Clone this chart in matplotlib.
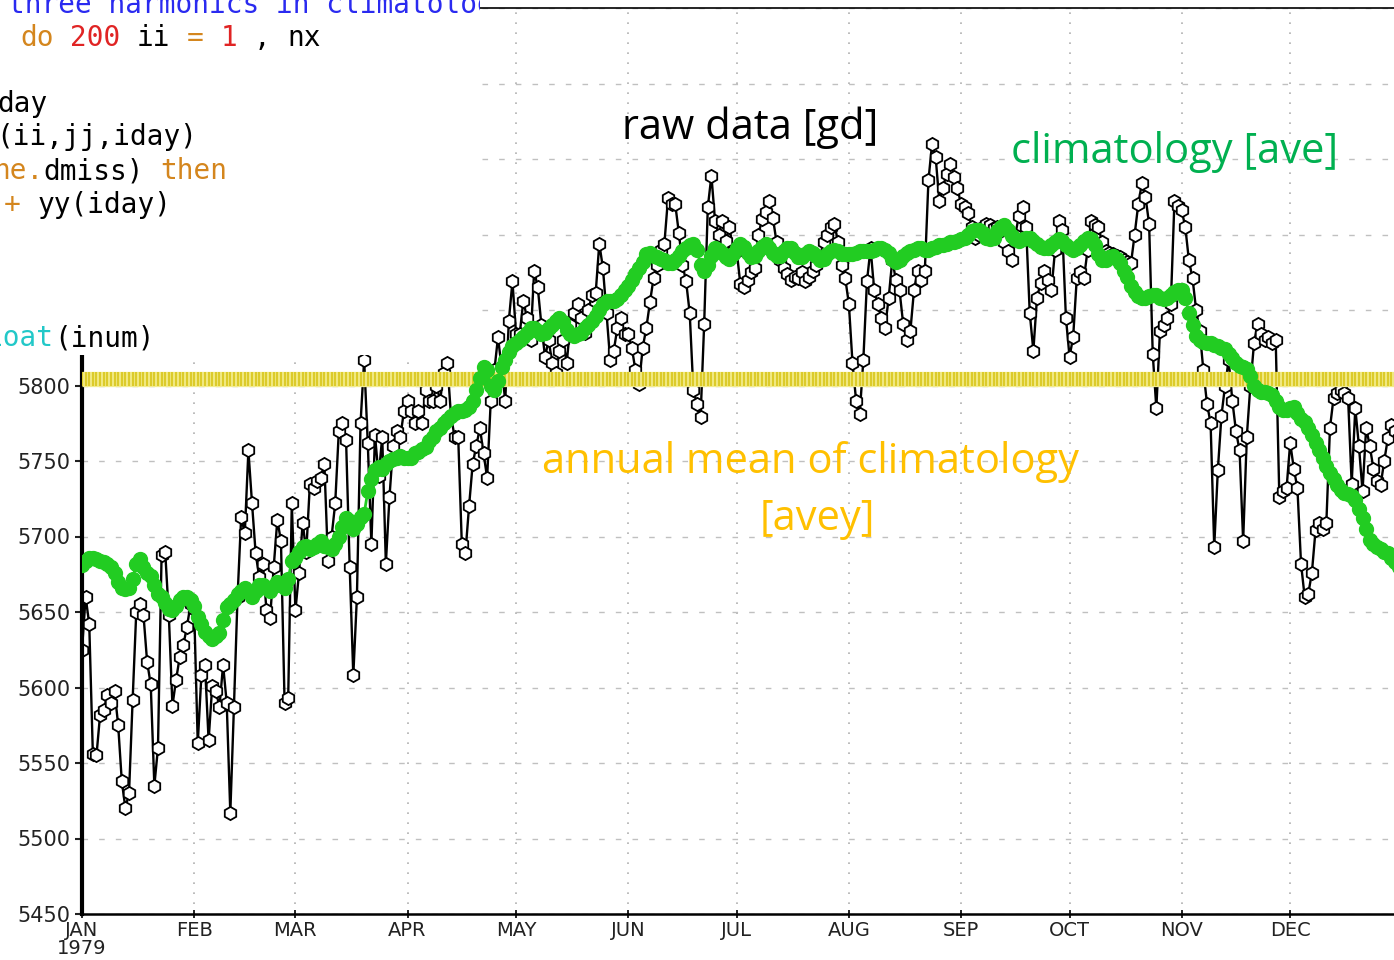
import numpy as np
import matplotlib.pyplot as plt

# daily 500 hPa height, 1979 (raw data [gd])
gd_jan = [5625, 5660, 5642, 5556, 5555, 5582, 5585, 5595, 5590, 5598, 5575, 5538, 5520, 5530, 5592, 5650,
          5655, 5648, 5617, 5602, 5535, 5560, 5688, 5690, 5648, 5588, 5605, 5620, 5628, 5640, 5655]
gd_feb = [5652, 5563, 5608, 5615, 5565, 5601, 5598, 5587, 5615, 5590, 5517, 5587, 5660, 5713, 5702, 5757,
          5722, 5689, 5673, 5682, 5651, 5646, 5680, 5711, 5697, 5590, 5593, 5722]
gd_mar = [5651, 5676, 5709, 5690, 5735, 5732, 5737, 5739, 5748, 5684, 5700, 5722, 5770, 5775, 5764, 5680,
          5608, 5660, 5775, 5817, 5762, 5695, 5767, 5740, 5766, 5682, 5726, 5760, 5770, 5766, 5783]
gd_apr = [5790, 5783, 5775, 5783, 5775, 5797, 5790, 5790, 5800, 5790, 5808, 5815, 5780, 5766, 5766, 5695,
          5689, 5720, 5748, 5760, 5772, 5755, 5739, 5790, 5810, 5832, 5812, 5790, 5843, 5869]
gd_may = [5834, 5834, 5856, 5845, 5830, 5876, 5865, 5840, 5819, 5830, 5815, 5808, 5823, 5830, 5815, 5840,
          5848, 5854, 5845, 5835, 5850, 5860, 5861, 5894, 5878, 5848, 5817, 5823, 5838, 5845, 5834]
gd_jun = [5834, 5825, 5810, 5801, 5825, 5838, 5855, 5871, 5880, 5890, 5894, 5924, 5920, 5920, 5901, 5880,
          5869, 5848, 5797, 5788, 5779, 5841, 5918, 5939, 5909, 5900, 5909, 5896, 5905, 5889]
gd_jul = [5889, 5867, 5865, 5870, 5875, 5878, 5900, 5910, 5915, 5922, 5911, 5895, 5883, 5878, 5874, 5870,
          5872, 5871, 5875, 5869, 5872, 5876, 5880, 5885, 5895, 5900, 5905, 5907, 5895, 5880, 5871]
gd_aug = [5854, 5815, 5790, 5781, 5817, 5869, 5891, 5863, 5854, 5845, 5838, 5858, 5883, 5870, 5863, 5841,
          5830, 5836, 5863, 5876, 5870, 5876, 5936, 5960, 5951, 5922, 5931, 5940, 5947, 5938, 5931]
gd_sep = [5920, 5918, 5914, 5905, 5898, 5900, 5905, 5907, 5906, 5904, 5905, 5900, 5895, 5889, 5883, 5900,
          5912, 5918, 5905, 5848, 5823, 5858, 5868, 5876, 5870, 5863, 5890, 5909, 5903, 5845]
gd_oct = [5819, 5832, 5871, 5875, 5871, 5890, 5909, 5906, 5905, 5895, 5889, 5888, 5887, 5886, 5885, 5883,
          5882, 5881, 5900, 5920, 5934, 5925, 5907, 5821, 5785, 5836, 5840, 5845, 5854, 5922, 5919]
gd_nov = [5916, 5905, 5883, 5871, 5850, 5836, 5810, 5788, 5775, 5693, 5744, 5780, 5800, 5817, 5790, 5770,
          5757, 5697, 5766, 5800, 5828, 5841, 5834, 5830, 5832, 5828, 5830, 5726, 5730, 5732]
gd_dec = [5762, 5745, 5732, 5682, 5660, 5662, 5676, 5704, 5709, 5705, 5709, 5772, 5792, 5795, 5797, 5795,
          5792, 5735, 5785, 5760, 5730, 5772, 5760, 5745, 5737, 5734, 5750, 5765, 5774, 5770, 5765]

# climatology [ave]
ave_jan = [5681, 5684, 5686, 5686, 5685, 5684, 5683, 5682, 5680, 5676, 5670, 5666, 5665, 5666, 5672, 5682,
           5685, 5680, 5676, 5674, 5668, 5662, 5660, 5656, 5652, 5651, 5654, 5658, 5660, 5660, 5658]
ave_feb = [5654, 5647, 5642, 5637, 5634, 5632, 5634, 5636, 5645, 5653, 5655, 5658, 5662, 5664, 5666, 5663,
           5660, 5664, 5668, 5668, 5666, 5664, 5667, 5670, 5668, 5666, 5672, 5684]
ave_mar = [5686, 5690, 5693, 5694, 5692, 5693, 5695, 5697, 5694, 5693, 5692, 5695, 5700, 5706, 5712, 5710,
           5705, 5708, 5713, 5715, 5730, 5738, 5744, 5746, 5745, 5748, 5750, 5751, 5752, 5753, 5752]
ave_apr = [5752, 5752, 5755, 5756, 5758, 5759, 5763, 5766, 5770, 5772, 5775, 5777, 5780, 5782, 5783, 5783,
           5784, 5786, 5790, 5797, 5805, 5812, 5810, 5800, 5797, 5803, 5812, 5817, 5822, 5826]
ave_may = [5828, 5830, 5832, 5835, 5838, 5838, 5836, 5834, 5835, 5838, 5840, 5843, 5845, 5842, 5837, 5834,
           5833, 5834, 5835, 5838, 5840, 5843, 5846, 5850, 5854, 5856, 5856, 5856, 5857, 5860, 5863]
ave_jun = [5866, 5870, 5874, 5878, 5882, 5887, 5888, 5886, 5885, 5884, 5883, 5881, 5881, 5883, 5886, 5889,
           5891, 5893, 5894, 5890, 5880, 5876, 5880, 5886, 5891, 5890, 5888, 5885, 5884, 5887]
ave_jul = [5891, 5894, 5892, 5888, 5885, 5886, 5889, 5892, 5894, 5891, 5888, 5886, 5886, 5889, 5891, 5891,
           5888, 5885, 5885, 5887, 5889, 5888, 5886, 5883, 5884, 5887, 5889, 5890, 5889, 5887, 5887]
ave_aug = [5887, 5887, 5888, 5889, 5889, 5889, 5889, 5890, 5891, 5891, 5890, 5888, 5884, 5882, 5883, 5886,
           5888, 5889, 5890, 5891, 5891, 5890, 5890, 5891, 5892, 5893, 5893, 5894, 5895, 5895, 5896]
ave_sep = [5897, 5898, 5900, 5902, 5903, 5903, 5901, 5898, 5897, 5898, 5902, 5905, 5906, 5903, 5899, 5897,
           5896, 5897, 5898, 5898, 5896, 5894, 5892, 5891, 5891, 5893, 5895, 5897, 5896, 5893]
ave_oct = [5891, 5890, 5891, 5893, 5896, 5898, 5897, 5893, 5887, 5883, 5883, 5885, 5886, 5884, 5881, 5876,
           5872, 5866, 5862, 5859, 5858, 5858, 5859, 5860, 5860, 5858, 5857, 5858, 5860, 5862, 5863]
ave_nov = [5863, 5858, 5848, 5840, 5833, 5830, 5829, 5828, 5828, 5827, 5826, 5825, 5824, 5821, 5818, 5815,
           5813, 5812, 5811, 5806, 5800, 5797, 5796, 5796, 5795, 5794, 5790, 5786, 5784, 5784]
ave_dec = [5785, 5786, 5782, 5778, 5776, 5772, 5767, 5762, 5757, 5752, 5747, 5742, 5738, 5734, 5731, 5729,
           5728, 5727, 5724, 5718, 5712, 5705, 5698, 5695, 5693, 5692, 5690, 5689, 5686, 5683, 5680]

# annual mean of climatology [avey]
avey = 5804.5

months = ['JAN\n1979', 'FEB', 'MAR', 'APR', 'MAY', 'JUN', 'JUL', 'AUG', 'SEP', 'OCT', 'NOV', 'DEC']
month_start = [0, 31, 59, 90, 120, 151, 181, 212, 243, 273, 304, 334]

gd = np.array(gd_jan + gd_feb + gd_mar + gd_apr + gd_may + gd_jun +
              gd_jul + gd_aug + gd_sep + gd_oct + gd_nov + gd_dec)
ave = np.array(ave_jan + ave_feb + ave_mar + ave_apr + ave_may + ave_jun +
               ave_jul + ave_aug + ave_sep + ave_oct + ave_nov + ave_dec)
days = np.arange(len(gd))

fig = plt.figure(figsize=(13.94, 9.6), dpi=100)
ax = fig.add_axes([82 / 1394, 1 - 914 / 960, 1 - 82 / 1394, (914 - 8) / 960])

ax.plot(days, gd, color='black', lw=1.7, marker='h', ms=9.5, mfc='white', mec='black', mew=1.3, zorder=2)
ax.plot(days, np.full(len(days), avey), color='#f3ec8c', lw=11, solid_capstyle='butt', zorder=3)
ax.plot(days, np.full(len(days), avey), ls='none', marker='|', ms=10, mew=1.6, color='#dccb2a', zorder=3)
ax.plot(days, ave, color='#22cc22', lw=2, marker='o', ms=10, mfc='#22cc22', mec='#22cc22', zorder=4)

ax.set_xlim(0, 362.7)
ax.set_ylim(5450, 6050)
ax.set_xticks(month_start)
ax.set_xticklabels(months, fontsize=14, color='#222222', linespacing=0.95)
ax.set_yticks(np.arange(5450, 6051, 50))
ax.tick_params(axis='y', labelsize=15, length=5, width=1.5, colors='#222222')
ax.tick_params(axis='x', length=6, width=1.2, direction='inout', pad=2)
ax.xaxis.grid(True, color='#b0b0b0', ls=(0, (1, 5)), lw=1.2)
ax.yaxis.grid(True, color='#c0c0c0', ls=(0, (4, 8)), lw=1.0)
ax.set_axisbelow(True)
ax.spines['right'].set_visible(False)
ax.spines['left'].set_linewidth(3)
ax.spines['bottom'].set_linewidth(1.8)
ax.spines['top'].set_linewidth(1.2)

fig.text(750 / 1394, 1 - 128 / 960, 'raw data [gd]', ha='center', va='center',
         fontsize=30, family='Open Sans', color='black')
fig.text(1175 / 1394, 1 - 152 / 960, 'climatology [ave]', ha='center', va='center',
         fontsize=30, family='Open Sans', color='#00b050')
fig.text(810 / 1394, 1 - 462 / 960, 'annual mean of climatology', ha='center', va='center',
         fontsize=30, family='Open Sans', color='#ffc000')
fig.text(817 / 1394, 1 - 519 / 960, '[avey]', ha='center', va='center',
         fontsize=30, family='Open Sans', color='#ffc000')

# code listing pasted over the upper left corner
code = fig.add_axes([0, 1 - 355 / 960, 480 / 1394, 355 / 960], zorder=10)
code.set_facecolor('white')
code.set_xlim(0, 480)
code.set_ylim(355, 0)
code.set_xticks([])
code.set_yticks([])
for s in code.spines.values():
    s.set_visible(False)

cw = 16.7
blue, orange, red, cyan = '#2a2af0', '#d4861e', '#e02424', '#22c8c8'
code_lines = [
    (5, 8, [(0, 'three harmonics in climatology', blue)]),
    (38, 20, [(0, 'do', orange), (3, '200', red), (7, 'ii', 'black'), (10, '=', orange),
              (12, '1', red), (14, ',', 'black'), (16, 'nx', 'black')]),
    (70, -12, [(0, ')', red)]),
    (104, -3, [(0, 'day', 'black')]),
    (137, -4, [(0, '(ii,jj,iday)', 'black')]),
    (171, -7, [(0, 'ne.', orange), (3, 'dmiss)', 'black'), (10, 'then', orange)]),
    (205, 4, [(0, '+', orange), (2, 'yy(iday)', 'black')]),
    (338, -13, [(0, 'loat', cyan), (4, '(inum)', 'black')]),
]
for y, x0, parts in code_lines:
    for col, txt, c in parts:
        code.text(x0 + col * cw, y, txt, color=c, fontsize=20, family='DejaVu Sans Mono',
                  va='center', ha='left', clip_on=True)

fig.savefig('out.png', dpi=100, facecolor='white')
